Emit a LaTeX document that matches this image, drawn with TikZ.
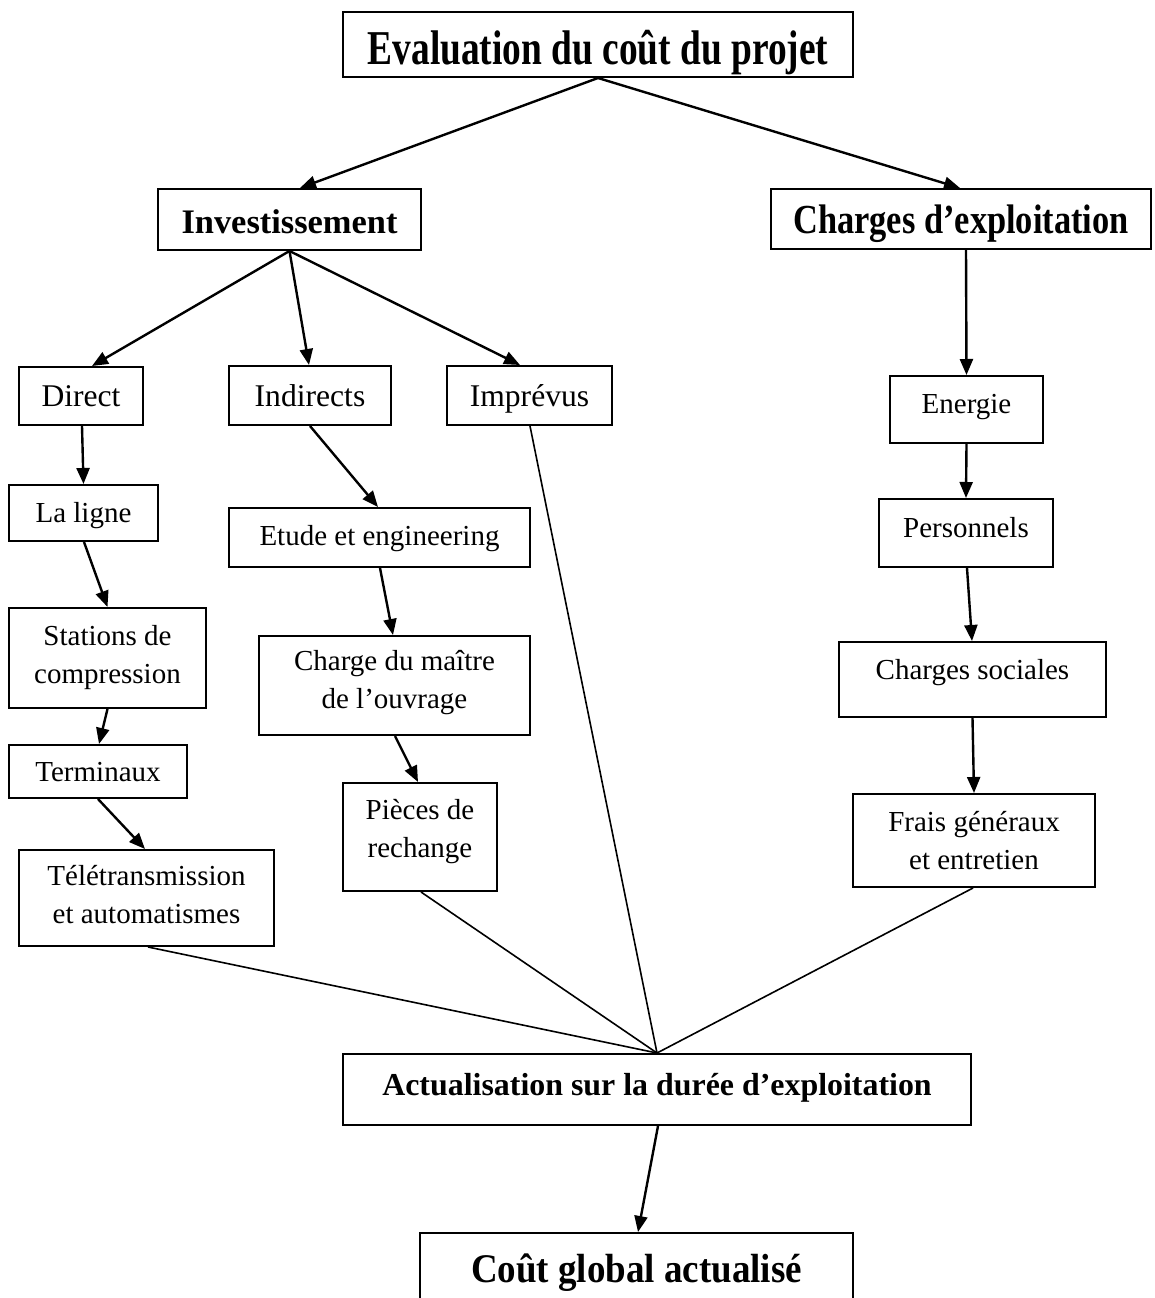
\documentclass[tikz,border=0pt]{standalone}
\usepackage{fontspec}
\setmainfont{Liberation Serif}
\usetikzlibrary{arrows.meta,calc}
\begin{document}
\begin{tikzpicture}[x=1pt,y=-1pt,
  box/.style={draw, line width=2pt, rectangle, inner sep=0pt, align=center,
    font=\fontsize{29}{38}\selectfont},
  mid/.style={font=\fontsize{31.6}{38}\selectfont},
  bigb/.style={font=\bfseries\fontsize{34.4}{40}\selectfont},
  arr/.style={line width=2.4pt, -{Triangle[length=16pt,width=13pt]}},
  ln/.style={line width=1.6pt}]
\useasboundingbox (0,0) rectangle (1154,1298);
\clip (0,0) rectangle (1154,1298);
% boxes
\node[box, font=\bfseries\fontsize{37.4}{44}\selectfont, text height=41pt, text depth=0pt,
  minimum width=510pt, minimum height=65pt] (eval) at (598,44.5) {\scalebox{1}[1.3]{Evaluation du coût du projet}};
\node[box, bigb, text height=27pt, text depth=0pt, minimum width=263pt, minimum height=61pt] (inv) at (289.5,219.5) {Investissement};
\node[box, bigb, text height=28pt, text depth=0pt, minimum width=380pt, minimum height=60pt] (chg) at (961,219) {\scalebox{1}[1.2]{Charges d’exploitation}};
\node[box, mid, text height=21pt, text depth=0pt, minimum width=124pt, minimum height=58pt] (dir) at (81,396) {Direct};
\node[box, mid, text height=21pt, text depth=0pt, minimum width=162pt, minimum height=59pt] (ind) at (310,395.5) {Indirects};
\node[box, mid, text height=21pt, text depth=0pt, minimum width=165pt, minimum height=59pt] (imp) at (529.5,395.5) {Imprévus};
\node[box, text height=20pt, text depth=13pt, minimum width=153pt, minimum height=67pt] (ene) at (966.5,409.5) {Energie};
\node[box, text height=20pt, text depth=2pt, minimum width=149pt, minimum height=56pt] (lig) at (83.5,513) {La ligne};
\node[box, text height=20pt, text depth=5pt, minimum width=301pt, minimum height=59pt] (etu) at (379.5,537.5) {Etude et engineering};
\node[box, text height=20pt, text depth=12pt, minimum width=174pt, minimum height=68pt] (per) at (966,533) {Personnels};
\node[box, text height=58pt, text depth=8pt, minimum width=197pt, minimum height=100pt] (sta) at (107.5,658) {Stations de\\compression};
\node[box, text height=58pt, text depth=13pt, minimum width=271pt, minimum height=99pt] (cha) at (394.5,685.5) {Charge du maître\\de l’ouvrage};
\node[box, text height=20pt, text depth=21pt, minimum width=267pt, minimum height=75pt] (soc) at (972.5,679.5) {Charges sociales};
\node[box, text height=20pt, text depth=0pt, minimum width=178pt, minimum height=53pt] (ter) at (98,771.5) {Terminaux};
\node[box, text height=58pt, text depth=18pt, minimum width=154pt, minimum height=108pt] (pie) at (420,837) {Pièces de\\rechange};
\node[box, text height=58pt, text depth=0pt, minimum width=242pt, minimum height=93pt] (fra) at (974,840.5) {Frais généraux\\et entretien};
\node[box, text height=58pt, text depth=8pt, minimum width=255pt, minimum height=96pt] (tel) at (146.5,898) {Télétransmission\\et automatismes};
\node[box, font=\bfseries\fontsize{31.9}{38}\selectfont, text height=22pt, text depth=11pt,
  minimum width=628pt, minimum height=71pt] (act) at (657,1089.5) {Actualisation sur la durée d’exploitation};
\node[box, font=\bfseries\fontsize{37}{44}\selectfont, text height=27pt, text depth=9pt,
  minimum width=433pt, minimum height=80pt] (cou) at (636.5,1273) {\scalebox{1}[1.1]{Coût global actualisé}};
% arrows
\draw[arr] (eval.south) -- ($(inv.north)+(10.5,0)$);
\draw[arr] (eval.south) -- ($(chg.north)+(-1,0)$);
\draw[arr] (inv.south) -- ($(dir.north)+(11,0)$);
\draw[arr] (inv.south) -- ($(ind.north)+(-1,0)$);
\draw[arr] (inv.south) -- ($(imp.north)+(-9.5,0)$);
\draw[arr] ($(chg.south)+(5,0)$) -- (ene.north);
\draw[arr] ($(dir.south)+(1,0)$) -- (lig.north);
\draw[arr] ($(lig.south)+(0.5,0)$) -- (sta.north);
\draw[arr] (sta.south) -- ($(ter.north)+(1,0)$);
\draw[arr] (ter.south) -- ($(tel.north)+(-1.5,0)$);
\draw[arr] (ind.south) -- ($(etu.north)+(-1.5,0)$);
\draw[arr] ($(etu.south)+(0.5,0)$) -- ($(cha.north)+(-1.5,0)$);
\draw[arr] ($(cha.south)+(0.5,0)$) -- ($(pie.north)+(-2,0)$);
\draw[arr] (ene.south) -- (per.north);
\draw[arr] ($(per.south)+(1,0)$) -- ($(soc.north)+(-0.5,0)$);
\draw[arr] (soc.south) -- (fra.north);
\draw[arr] ($(act.south)+(1,0)$) -- ($(cou.north)+(1.5,0)$);
% plain lines to actualisation
\draw[ln] ($(tel.south)+(1.5,0)$) -- (act.north);
\draw[ln] ($(pie.south)+(1,0)$) -- (act.north);
\draw[ln] ($(imp.south)+(0.5,0)$) -- (act.north);
\draw[ln] ($(fra.south)+(-1,0)$) -- (act.north);
\end{tikzpicture}
\end{document}
